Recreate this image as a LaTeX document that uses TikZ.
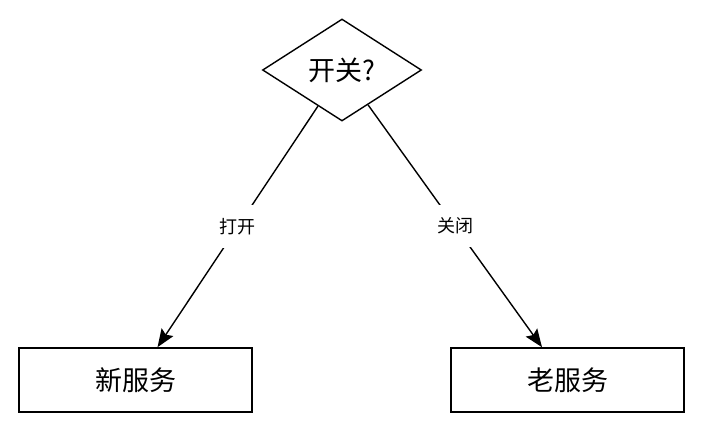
\documentclass[tikz,border=0pt]{standalone}
\usepackage{fontspec}
\setmainfont{Noto Sans CJK SC}
\usetikzlibrary{shapes.geometric,arrows.meta,calc}
\begin{document}
\begin{tikzpicture}[x=1pt,y=-1pt,
  decision/.style={draw,line width=1.4pt,shape=diamond,inner sep=0pt,minimum width=159pt,minimum height=102pt,font=\fontsize{27}{30}\selectfont},
  svcbox/.style={draw,line width=1.6pt,rectangle,inner sep=0pt,minimum width=233pt,minimum height=64pt,font=\fontsize{27}{30}\selectfont},
  conn/.style={line width=1.4pt,-{Stealth[length=18pt,width=14pt,inset=3pt]}},
  elabel/.style={fill=white,inner xsep=2pt,inner ysep=13pt,font=\fontsize{18}{22}\selectfont}]
\useasboundingbox (0,0) rectangle (702,430);
\node[decision] (d) at (342,70) {开关?};
\node[svcbox] (l) at (135.5,380) {新服务};
\node[svcbox] (r) at (567.5,380) {老服务};
\coordinate (ds1) at ($(d.south)!0.3!(d.west)$);
\coordinate (ds2) at ($(d.south)!0.325!(d.east)$);
\coordinate (lt) at ([xshift=22pt]l.north);
\coordinate (rt) at ([xshift=-25.5pt]r.north);
\draw[conn] (ds1) -- node[elabel] {打开} (lt);
\draw[conn] (ds2) -- node[elabel] {关闭} (rt);
\end{tikzpicture}
\end{document}
